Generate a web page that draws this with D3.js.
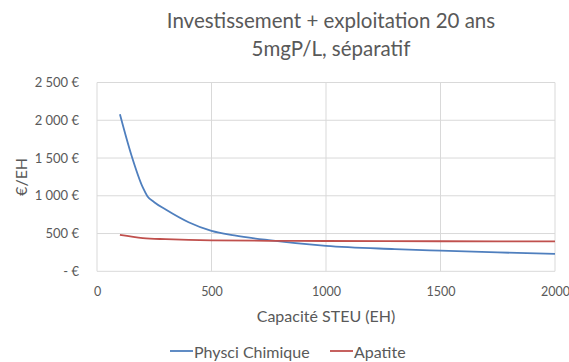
<!DOCTYPE html>
<html>
<head>
<meta charset="utf-8">
<script src="https://cdn.jsdelivr.net/npm/d3@7"></script>
<style>
  html, body { margin: 0; padding: 0; background: #fff; }
  svg { display: block; font-family: Lato, "Open Sans", sans-serif; }
</style>
</head>
<body>
<svg id="chart" width="569" height="362"></svg>
<script>
// Capacity of the treatment plant (EH) and cost per EH for each process
const capacityPhysico = [100, 150, 200, 220, 250, 300, 400, 500, 600, 750, 1000, 1300, 1500, 1750, 2000];
const costPhysico     = [2080, 1540, 1110, 995, 915, 818, 650, 535, 475, 412, 336, 294, 273, 250, 230];
const capacityApatite = [100, 200, 300, 400, 500, 750, 1000, 1500, 2000];
const costApatite     = [481, 440, 425, 415, 410, 404, 401, 398, 395];

const seriesNames  = ["Physci Chimique", "Apatite"];
const xTicks = [0, 500, 1000, 1500, 2000];
const yTicks = [0, 500, 1000, 1500, 2000, 2500];
const titleLines = ["Investissement + exploitation 20 ans", "5mgP/L, séparatif"];
const xTitle = "Capacité STEU (EH)";
const yTitle = "€/EH";

const colors = ["#4F7FBE", "#C0504D"];
const textColor = "#595959";
const gridColor = "#D9D9D9";

const svg = d3.select("#chart");
const plot = { left: 97, right: 555, top: 82.5, bottom: 271.3 };

const x = d3.scaleLinear().domain([0, 2000]).range([plot.left, plot.right]);
const y = d3.scaleLinear().domain([0, 2500]).range([plot.bottom, plot.top]);

// Euro format with a space as thousands separator, zero shown as "- €"
const euro = v => v === 0 ? "- €" : d3.format(",")(v).replace(/,/g, "\u202F") + " €";

// Gridlines
svg.append("g").selectAll("line").data(yTicks).join("line")
  .attr("x1", plot.left).attr("x2", plot.right)
  .attr("y1", d => y(d)).attr("y2", d => y(d))
  .attr("stroke", gridColor).attr("stroke-width", 1);
svg.append("g").selectAll("line").data(xTicks).join("line")
  .attr("x1", d => x(d)).attr("x2", d => x(d))
  .attr("y1", plot.top).attr("y2", plot.bottom)
  .attr("stroke", gridColor).attr("stroke-width", 1);

// Axes (labels only, no domain line)
const yAxis = svg.append("g")
  .attr("transform", `translate(${plot.left - 15},0)`)
  .call(d3.axisLeft(y).tickValues(yTicks).tickFormat(euro).tickSize(0));
yAxis.select(".domain").remove();
yAxis.selectAll("text").attr("fill", textColor).attr("font-size", 13)
  .attr("font-family", "Lato, 'Open Sans', sans-serif").attr("dx", 0);

const xAxis = svg.append("g")
  .attr("transform", `translate(0,${plot.bottom + 13})`)
  .call(d3.axisBottom(x).tickValues(xTicks).tickFormat(d3.format("d")).tickSize(0));
xAxis.select(".domain").remove();
xAxis.selectAll("text").attr("fill", textColor).attr("font-size", 12.5)
  .attr("font-family", "Lato, 'Open Sans', sans-serif");

// Series lines
const line = d3.line().x(d => x(d[0])).y(d => y(d[1])).curve(d3.curveMonotoneX);
const series = [
  d3.zip(capacityPhysico, costPhysico),
  d3.zip(capacityApatite, costApatite)
];
series.forEach((pts, i) => {
  svg.append("path").datum(pts)
    .attr("fill", "none").attr("stroke", colors[i]).attr("stroke-width", 1.8)
    .attr("stroke-linejoin", "round").attr("d", line);
});

// Titles
const title = svg.append("text").attr("text-anchor", "middle").attr("fill", textColor)
  .attr("font-size", 20.5);
titleLines.forEach((t, i) => {
  title.append("tspan").attr("x", 331).attr("y", 28 + i * 28).text(t);
});

svg.append("text").attr("x", (plot.left + plot.right) / 2).attr("y", 322)
  .attr("text-anchor", "middle").attr("fill", textColor).attr("font-size", 16)
  .text(xTitle);

svg.append("text").attr("transform", `translate(27,${(plot.top + plot.bottom) / 2}) rotate(-90)`)
  .attr("text-anchor", "middle").attr("fill", textColor).attr("font-size", 16)
  .text(yTitle);

// Legend
const legendItems = [{ name: seriesNames[0], x: 170 }, { name: seriesNames[1], x: 330 }];
legendItems.forEach((d, i) => {
  svg.append("line").attr("x1", d.x).attr("x2", d.x + 23)
    .attr("y1", 351).attr("y2", 351)
    .attr("stroke", colors[i]).attr("stroke-width", 1.8);
  svg.append("text").attr("x", d.x + 24).attr("y", 357.5)
    .attr("fill", textColor).attr("font-size", 16).text(d.name);
});
</script>
</body>
</html>
